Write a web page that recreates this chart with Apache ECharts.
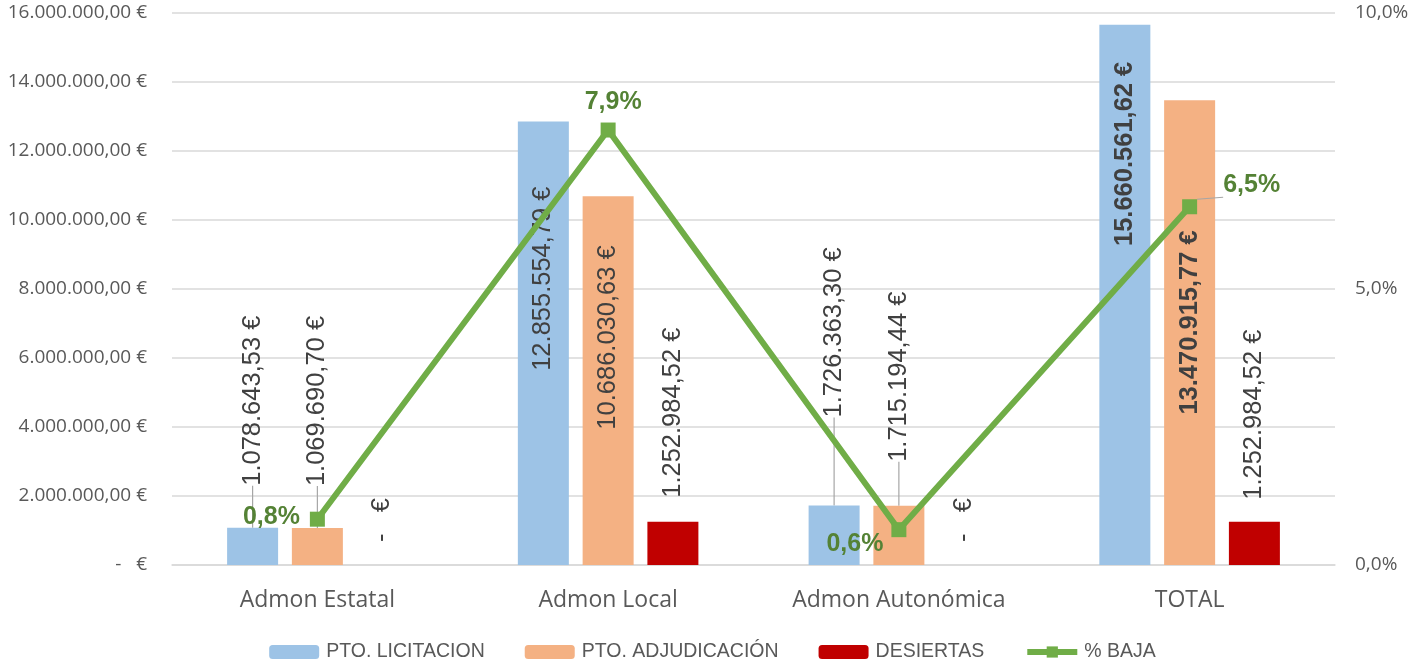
<!DOCTYPE html>
<html>
<head>
<meta charset="utf-8">
<script src="https://cdn.jsdelivr.net/npm/echarts@6/dist/echarts.min.js"></script>
<style>
html,body{margin:0;padding:0;background:#fff;}
#chart{width:1425px;height:665px;}
</style>
</head>
<body>
<div id="chart"></div>
<script>
// ---- data ----
const categories = ['Admon Estatal', 'Admon Local', 'Admon Autonómica', 'TOTAL'];
const seriesNames = ['PTO. LICITACION', 'PTO. ADJUDICACIÓN', 'DESIERTAS', '% BAJA'];
const licitacion = [1078643.53, 12855554.79, 1726363.30, 15660561.62];
const adjudicacion = [1069690.70, 10686030.63, 1715194.44, 13470915.77];
const desiertas = [0, 1252984.52, 0, 1252984.52];
const baja = [0.83, 7.88, 0.64, 6.49]; // percent
const leftTicks = [0, 16000000, 2000000];   // min, max, interval
const rightTicks = [0, 10, 5];              // min, max, interval (percent)

// ---- styling ----
const SANS = '"Liberation Sans", Arial, sans-serif';
const AXISF = '"Open Sans", sans-serif';
const colors = ['#9DC3E6', '#F4B183', '#C00000', '#70AD47'];

function fmtEuro(v) {
  if (v === 0) return '-   €';
  const parts = v.toFixed(2).split('.');
  const intp = parts[0].replace(/\B(?=(\d{3})+(?!\d))/g, '.');
  return intp + ',' + parts[1] + ' €';
}
function fmtPct(v) { return v.toFixed(1).replace('.', ',') + '%'; }

// label placement per bar series / data item: [position, distance, bold, leaderLine]
const barLabelCfg = [
  [['top', 42, false, true], ['insideTop', 65, false, false], ['top', 88, false, true], ['insideTop', 37, true, false]],
  [['top', 42, false, true], ['insideTop', 49, false, false], ['top', 44, false, true], ['insideTop', 130, true, false]],
  [['top', 23, false, false], ['top', 24, false, false], ['top', 23, false, false], ['top', 22, false, false]]
];
const lineLabelCfg = [
  { position: 'left', distance: 10, offset: [0, -2] },
  { position: 'top', distance: 8, offset: [5, 0] },
  { position: 'left', distance: 8, offset: [0, 14] },
  { position: 'right', distance: 26, offset: [0, -22] }
];

function barData(values, si) {
  return values.map((v, i) => {
    const c = barLabelCfg[si][i];
    const inside = c[0] === 'insideTop';
    return {
      value: v,
      label: {
        position: c[0],
        distance: c[1],
        align: inside ? 'right' : 'left',
        verticalAlign: 'middle',
        fontWeight: c[2] ? 'bold' : 'normal'
      },
      labelLine: { show: c[3] }
    };
  });
}

const barBase = {
  type: 'bar',
  barWidth: 51,
  barGap: '27%',
  label: {
    show: true,
    rotate: 90,
    fontFamily: SANS,
    fontSize: 25.5,
    color: '#404040',
    formatter: p => fmtEuro(p.value)
  },
  labelLine: { show: false, lineStyle: { color: '#a6a6a6', width: 1.2 } },
  emphasis: { disabled: true }
};

const option = {
  animation: false,
  grid: { left: 172, right: 90, top: 13, bottom: 100 },
  legend: {
    bottom: -2,
    left: 'center',
    itemWidth: 50,
    itemHeight: 14,
    itemGap: 40,
    textStyle: { fontFamily: SANS, fontSize: 19.5, color: '#595959', padding: [0, 0, 0, 2] },
    data: seriesNames.map((n, i) => i === 3
      ? { name: n, lineStyle: { width: 6, color: colors[3] } }
      : { name: n })
  },
  xAxis: {
    type: 'category',
    data: categories,
    axisLine: { show: true, lineStyle: { color: '#d9d9d9', width: 1.5 } },
    axisTick: { show: false },
    axisLabel: { fontFamily: AXISF, fontSize: 23, color: '#595959', margin: 24 }
  },
  yAxis: [
    {
      type: 'value',
      min: leftTicks[0], max: leftTicks[1], interval: leftTicks[2],
      axisLine: { show: false },
      axisTick: { show: false },
      splitLine: { lineStyle: { color: '#d9d9d9', width: 1.5 } },
      axisLabel: { fontFamily: AXISF, fontSize: 19, color: '#595959', margin: 25, formatter: v => fmtEuro(v) }
    },
    {
      type: 'value',
      min: rightTicks[0], max: rightTicks[1], interval: rightTicks[2],
      axisLine: { show: false },
      axisTick: { show: false },
      splitLine: { show: false },
      axisLabel: { fontFamily: AXISF, fontSize: 19, color: '#595959', margin: 20, formatter: v => fmtPct(v) }
    }
  ],
  series: [
    Object.assign({}, barBase, { name: seriesNames[0], itemStyle: { color: colors[0] }, data: barData(licitacion, 0) }),
    Object.assign({}, barBase, { name: seriesNames[1], itemStyle: { color: colors[1] }, data: barData(adjudicacion, 1) }),
    Object.assign({}, barBase, { name: seriesNames[2], itemStyle: { color: colors[2] }, data: barData(desiertas, 2) }),
    {
      type: 'line',
      name: seriesNames[3],
      yAxisIndex: 1,
      symbol: 'rect',
      symbolSize: 15,
      lineStyle: { color: colors[3], width: 6 },
      itemStyle: { color: colors[3] },
      emphasis: { disabled: true },
      label: {
        show: true,
        fontFamily: SANS,
        fontWeight: 'bold',
        fontSize: 25,
        color: '#548235',
        formatter: p => fmtPct(p.value)
      },
      labelLine: { show: false, lineStyle: { color: '#a6a6a6', width: 1.2 } },
      data: baja.map((v, i) => ({
        value: v,
        label: lineLabelCfg[i],
        labelLine: { show: i === 3 }
      }))
    }
  ]
};

const chart = echarts.init(document.getElementById('chart'), null, { renderer: 'canvas' });
chart.setOption(option);
</script>
</body>
</html>
